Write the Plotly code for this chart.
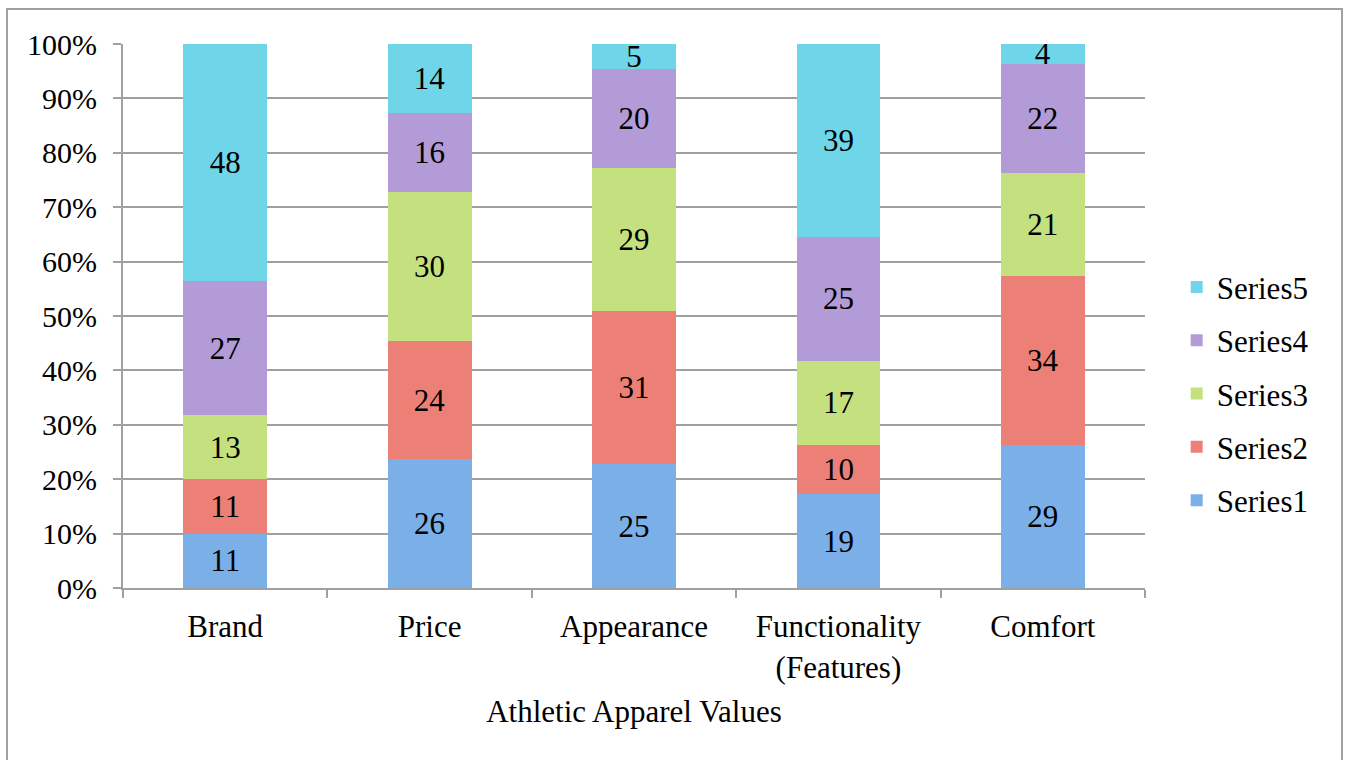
import plotly.graph_objects as go

categories = ["Brand", "Price", "Appearance", "Functionality<br>(Features)", "Comfort"]
series_names = ["Series1", "Series2", "Series3", "Series4", "Series5"]
series1 = [11, 26, 25, 19, 29]
series2 = [11, 24, 31, 10, 34]
series3 = [13, 30, 29, 17, 21]
series4 = [27, 16, 20, 25, 22]
series5 = [48, 14, 5, 39, 4]
all_series = [series1, series2, series3, series4, series5]
colors = ["#7aafe8", "#ec8077", "#c5e07e", "#b39bd8", "#6fd6ea"]
y_ticks = [0, 10, 20, 30, 40, 50, 60, 70, 80, 90, 100]
y_tick_labels = [f"{t}%" for t in y_ticks]

FONT = "Liberation Serif, Times New Roman, serif"

fig = go.Figure()
for i, (name, vals, col) in enumerate(zip(series_names, all_series, colors)):
    fig.add_trace(go.Bar(
        x=categories, y=vals, name=name, text=vals, legendgroup=name,
        legendrank=1000 - i,
        texttemplate="%{text}", textposition="inside", textangle=0,
        insidetextanchor="middle",
        textfont=dict(family=FONT, size=31, color="black"),
        marker=dict(color=col, line=dict(width=0)),
        width=0.41,
    ))

L, R, T, B = 123, 201, 44, 172
W, H = 1346, 760
pw, ph = W - L - R, H - T - B

fig.update_layout(
    width=W, height=H,
    barmode="stack", barnorm="percent",
    margin=dict(l=L, r=R, t=T, b=B),
    paper_bgcolor="white", plot_bgcolor="white",
    font=dict(family=FONT, size=31, color="black"),
    uniformtext=dict(minsize=31, mode="show"),
    showlegend=True,
    legend=dict(
        traceorder="grouped", x=1.031, y=0.357, xanchor="left", yanchor="middle",
        font=dict(family=FONT, size=31, color="black"),
        itemwidth=30, tracegroupgap=10, bgcolor="rgba(0,0,0,0)",
    ),
    xaxis=dict(
        showline=True, linecolor="#a0a0a0", linewidth=2,
        ticks="outside", tickson="boundaries", ticklen=8, tickcolor="#a0a0a0", tickwidth=2,
        ticklabelstandoff=10,
        tickfont=dict(family=FONT, size=31, color="black"),
        title=dict(text="Athletic Apparel Values", font=dict(family=FONT, size=31, color="black"), standoff=17),
        showgrid=False,
    ),
    yaxis=dict(
        range=[0, 100], tickvals=y_ticks, ticktext=y_tick_labels,
        showline=True, linecolor="#a0a0a0", linewidth=2,
        ticks="outside", ticklen=8, tickcolor="#a0a0a0", tickwidth=2,
        ticklabelstandoff=10,
        tickfont=dict(family=FONT, size=30, color="black"),
        showgrid=True, gridcolor="#a0a0a0", gridwidth=2,
        zeroline=False,
    ),
    shapes=[dict(
        type="rect", xref="paper", yref="paper",
        x0=(7 - L) / pw, x1=(1342 - L) / pw,
        y0=(H - B - 800) / ph, y1=(H - B - 9) / ph,
        line=dict(color="#a0a0a0", width=2), fillcolor="rgba(0,0,0,0)", layer="below",
    )],
)

fig.write_html("out.html")
